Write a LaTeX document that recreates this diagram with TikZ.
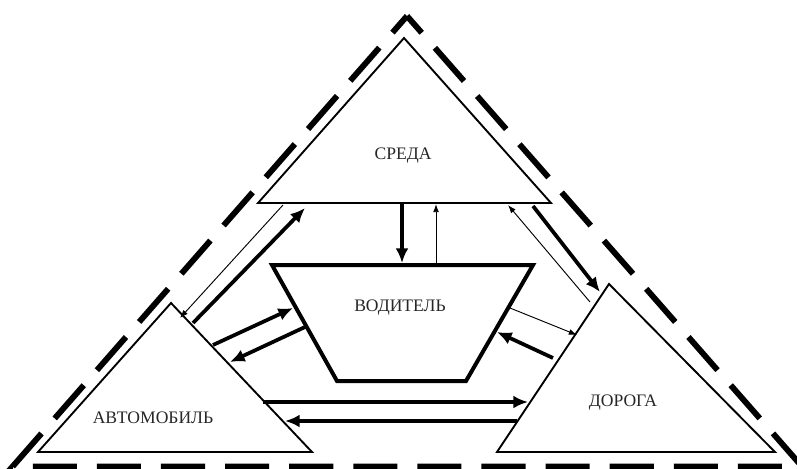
\documentclass[tikz,border=0pt]{standalone}
\usepackage{fontspec}
\setmainfont{Liberation Serif}
\usetikzlibrary{arrows.meta,positioning,calc}
\tikzset{
    zone/.style={line width=5pt, dash pattern=on 37.64pt off 17.07pt, dash phase=18.82pt, line join=miter},
    block/.style={line width=1.6pt, line join=miter},
    driver/.style={line width=3.4pt, line join=miter},
    strong/.style={line width=3.2pt, -{Latex[length=12.5pt,width=11pt]}},
    weak/.style={line width=0.8pt, -{Latex[length=7pt,width=5pt]}},
    caption/.style={font=\fontsize{15}{18}\selectfont, text=black!85},
}

\begin{document}
\begin{tikzpicture}[x=0.03cm, y=-0.03cm]
    \useasboundingbox (0,0) rectangle (797,468);
    \clip (0,0) rectangle (797,468);

    % System border
    \draw[zone] (407,16) -- (12.6,466.5) -- (802,466.5) -- cycle;

    % Blocks
    \draw[block] (404,38) -- (258,203) -- (551,203) -- cycle;
    \draw[block] (171,303) -- (38,452) -- (312,452) -- cycle;
    \draw[block] (609,284) -- (497,452) -- (775,452) -- cycle;
    \draw[driver] (272,265) -- (533,265) -- (466,381) -- (337,381) -- cycle;

    \node[caption] (sreda) at (403,156) {СРЕДА};
    \node[caption] (voditel) at (400,308) {ВОДИТЕЛЬ};
    \node[caption] (avto) at (153,418) {АВТОМОБИЛЬ};
    \node[caption] (doroga) at (623,403) {ДОРОГА};

    % Link ends
    \foreach \n/\x/\y in {sv-a/402/203, sv-b/402/263, vs-a/436/263, vs-b/436/204,
                          as-a/193/323, as-b/305/208, sa-a/283/205, sa-b/180/318,
                          sd-a/533/206, sd-b/600/292, ds-a/590/302, ds-b/508/205,
                          av-a/213/345, av-b/293/308, va-a/305/327, va-b/230/362,
                          vd-a/510/308, vd-b/577/335, dv-a/553/358, dv-b/497/332,
                          ad-a/263/402, ad-b/528/402, da-a/517/421, da-b/285/421} {
        \coordinate (\n) at (\x,\y);
    }

    % Links
    \draw[strong] (sv-a) -- (sv-b);
    \draw[weak] (vs-a) -- (vs-b);
    \draw[strong] (as-a) -- (as-b);
    \draw[weak] (sa-a) -- (sa-b);
    \draw[strong] (sd-a) -- (sd-b);
    \draw[weak] (ds-a) -- (ds-b);
    \draw[strong] (av-a) -- (av-b);
    \draw[strong] (va-a) -- (va-b);
    \draw[weak] (vd-a) -- (vd-b);
    \draw[strong] (dv-a) -- (dv-b);
    \draw[strong] (ad-a) -- (ad-b);
    \draw[strong] (da-a) -- (da-b);
\end{tikzpicture}
\end{document}
